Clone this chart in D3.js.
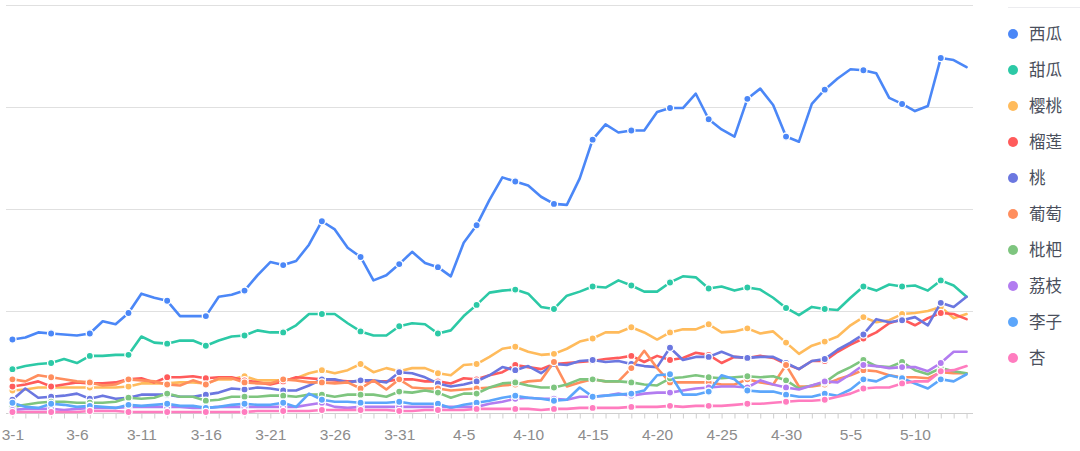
<!DOCTYPE html>
<html><head><meta charset="utf-8">
<script src="https://cdn.jsdelivr.net/npm/d3@7"></script>
<style>
html,body{margin:0;padding:0;background:#fff;}
svg{display:block;}
</style></head>
<body>
<svg id="chart" width="1080" height="451"></svg>
<script>
const categories = ["3-1","3-2","3-3","3-4","3-5","3-6","3-7","3-8","3-9","3-10","3-11","3-12","3-13","3-14","3-15","3-16","3-17","3-18","3-19","3-20","3-21","3-22","3-23","3-24","3-25","3-26","3-27","3-28","3-29","3-30","3-31",
"4-1","4-2","4-3","4-4","4-5","4-6","4-7","4-8","4-9","4-10","4-11","4-12","4-13","4-14","4-15","4-16","4-17","4-18","4-19","4-20","4-21","4-22","4-23","4-24","4-25","4-26","4-27","4-28","4-29","4-30",
"5-1","5-2","5-3","5-4","5-5","5-6","5-7","5-8","5-9","5-10","5-11","5-12","5-13","5-14"];
const xTickLabels = ["3-1","3-6","3-11","3-16","3-21","3-26","3-31","4-5","4-10","4-15","4-20","4-25","4-30","5-5","5-10"];
const seriesNames = ["西瓜","甜瓜","樱桃","榴莲","桃","葡萄","枇杷","荔枝","李子","杏"];
const seriesColors = ["#4b87f7","#2cc9a6","#ffbb5c","#ff5b5b","#6b77e0","#ff8e5e","#7ec57f","#b27cf0","#5ca6fb","#ff7cbf"];
const xigua = [72,74,79,78,77,76,78,90,87,98,117,113,110,95,95,95,114,116,120,135,148,145,149,165,188,180,162,153,130,135,146,158,147,143,134,167,184,209,231,227,223,212,205,204,230,268,283,275,277,277,295,299,299,313,288,278,271,308,318,302,271,266,303,317,328,337,336,333,309,303,296,301,348,346,339];
const tiangua = [43,46,48,49,53,49,56,56,57,57,75,69,68,71,71,66,71,75,76,81,79,79,86,97,97,97,88,80,76,76,85,88,87,78,81,95,106,118,120,121,117,104,102,115,119,124,123,130,125,119,119,128,134,133,122,124,120,123,121,113,103,96,104,102,101,113,124,120,126,124,125,120,130,125,114];
const yingtao = [22,23,25,25,25,25,25,25,25,26,29,29,29,30,30,29,33,33,36,32,32,32,34,39,42,39,42,48,40,44,41,44,44,39,37,47,48,55,63,65,60,57,58,63,70,73,79,79,84,79,72,79,82,82,87,79,80,83,78,80,69,58,66,70,75,86,94,89,91,97,98,100,104,93,97];
const liulian = [26,28,31,26,28,30,29,29,30,33,34,30,35,35,36,34,35,35,32,30,28,31,35,34,33,32,31,31,31,31,33,33,31,31,29,34,33,37,40,47,45,43,48,49,50,51,53,54,56,50,56,52,54,59,57,49,55,54,56,54,48,43,51,51,60,67,73,79,88,92,86,93,98,97,92];
const tao = [13,24,15,16,17,19,14,17,14,15,18,18,18,16,16,18,20,24,23,25,24,22,22,27,33,33,30,32,32,30,40,39,35,29,26,28,31,37,45,42,46,39,48,47,51,52,50,51,48,46,45,64,52,55,55,60,55,54,55,55,49,43,51,53,62,69,77,92,89,91,94,86,108,104,114];
const putao = [33,31,37,35,33,31,30,27,28,33,32,31,28,27,32,28,34,34,30,29,29,33,32,30,30,29,30,24,32,23,33,25,24,24,22,23,24,25,27,28,31,32,50,26,30,33,31,31,44,61,44,30,30,30,30,28,28,33,30,28,47,26,26,28,33,37,42,41,37,35,35,34,40,39,39];
const pipa = [6,8,10,11,11,10,10,10,11,15,14,15,19,16,16,12,13,16,16,16,17,17,16,18,18,16,18,18,18,16,21,20,22,20,15,19,19,25,29,30,27,25,25,28,33,33,31,31,30,28,27,34,35,37,35,34,35,36,35,36,32,24,27,30,39,45,52,46,45,50,42,38,44,41,39];
const lizhi = [3,4,4,4,3,4,5,5,5,6,6,6,6,6,5,5,6,6,6,6,6,6,6,8,10,6,5,6,6,6,6,6,6,6,6,6,6,9,11,14,15,14,14,13,16,16,17,19,17,19,20,20,22,24,25,26,26,25,32,28,25,23,27,31,30,38,47,46,44,45,45,41,49,60,60];
const lizi = [10,6,5,9,8,6,7,6,5,8,7,8,9,7,7,5,6,8,9,8,8,10,6,19,13,11,11,10,10,10,11,9,9,9,5,8,10,12,15,17,15,14,12,13,25,16,17,18,19,22,37,38,18,18,21,37,33,22,21,21,18,16,16,19,17,23,33,31,37,34,29,24,33,31,38];
const xing = [1,1,1,1,1,1,2,2,2,1,1,1,1,1,1,1,1,1,1,2,2,2,2,2,3,3,3,3,3,3,2,2,3,3,3,3,4,4,4,4,4,3,4,4,5,5,5,5,6,6,6,7,6,7,7,7,8,9,9,10,11,12,12,13,16,19,24,25,25,29,31,31,41,42,46];
const yTicks = [0,100,200,300,400];

const seriesData = [xigua,tiangua,yingtao,liulian,tao,putao,pipa,lizhi,lizi,xing];

const svg = d3.select("#chart");
const plotLeft = 6, plotRight = 973, plotTop = 5, plotBottom = 413;

const x = d3.scalePoint().domain(categories).range([plotLeft,plotRight]).padding(0.5);
const y = d3.scaleLinear().domain([0,400]).range([plotBottom,plotTop]);

// grid lines
svg.append("g").selectAll("line").data(yTicks.filter(d=>d>0)).join("line")
  .attr("x1",plotLeft).attr("x2",plotRight)
  .attr("y1",d=>y(d)+0.5).attr("y2",d=>y(d)+0.5)
  .attr("stroke","#e0e0e0").attr("stroke-width",1);

// faint top line over legend area
svg.append("line").attr("x1",1008).attr("x2",1080).attr("y1",7.5).attr("y2",7.5)
  .attr("stroke","#ececef").attr("stroke-width",1);

// x axis
const xAxis = d3.axisBottom(x)
  .tickValues(categories)
  .tickSize(5).tickSizeOuter(0).tickPadding(10)
  .tickFormat(d => xTickLabels.includes(d) ? d : "");
const gx = svg.append("g").attr("transform",`translate(0,${plotBottom+0.5})`).call(xAxis);
gx.select(".domain").attr("stroke","#cfcfcf").attr("d",`M${plotLeft},0H${plotRight}`);
gx.selectAll(".tick line").attr("stroke","#cfcfcf");
gx.selectAll(".tick text").attr("fill","#8c8c8c")
  .style("font-family","'Helvetica Neue',Helvetica,Arial,'Liberation Sans',sans-serif")
  .style("font-size","15.5px");

// series
const line = d3.line().x((d,i)=>x(categories[i])).y(d=>y(d)).curve(d3.curveLinear);
seriesData.forEach((vals,si)=>{
  const g = svg.append("g");
  g.append("path").datum(vals).attr("d",line)
    .attr("fill","none").attr("stroke",seriesColors[si]).attr("stroke-width",2.6)
    .attr("stroke-linejoin","round").attr("stroke-linecap","round");
  g.selectAll("circle").data(vals.map((v,i)=>({v,i})).filter(d=>d.i%3===0)).join("circle")
    .attr("cx",d=>x(categories[d.i])).attr("cy",d=>y(d.v))
    .attr("r",3.6).attr("fill",seriesColors[si]).attr("stroke","#fff").attr("stroke-width",1.3);
});

// legend
const lg = svg.append("g");
seriesNames.forEach((n,i)=>{
  const cy = 34 + 36*i;
  lg.append("circle").attr("cx",1013).attr("cy",cy).attr("r",5).attr("fill",seriesColors[i]);
  lg.append("text").attr("x",1029).attr("y",cy).attr("dy","0.36em")
    .attr("fill","#4a4f5c")
    .style("font-family","'Noto Sans CJK SC','Noto Sans',sans-serif")
    .style("font-size","16.5px").text(n);
});
</script>
</body></html>
